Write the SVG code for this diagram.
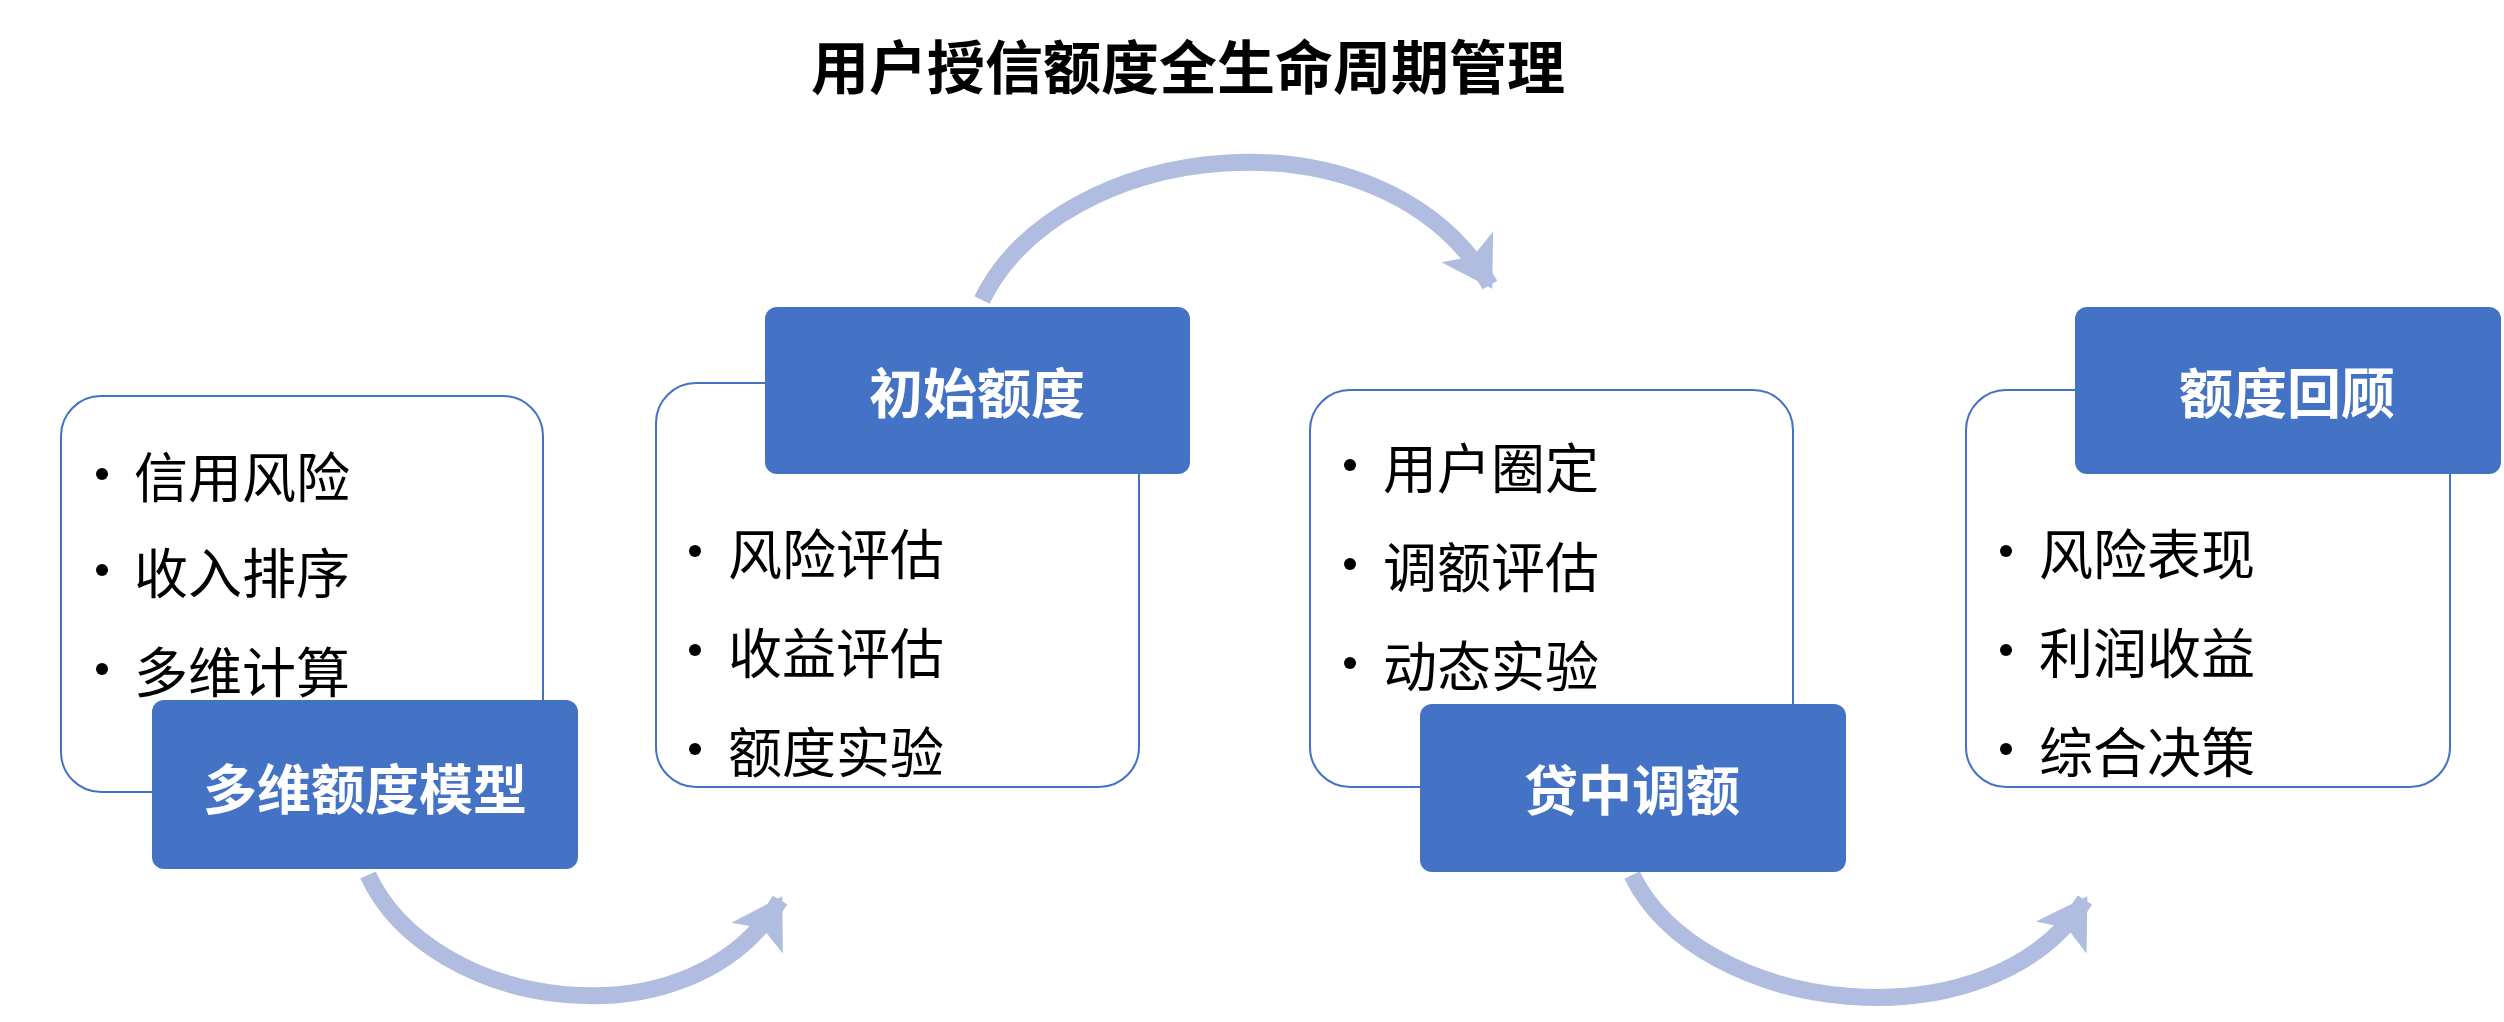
<svg xmlns="http://www.w3.org/2000/svg" width="2504" height="1022" viewBox="0 0 2504 1022">
<style>
.card{fill:#fff;stroke:#4472C4;stroke-width:2}
.head{fill:#4472C4}
.ht{font-family:"Noto Sans CJK SC",sans-serif;font-weight:bold;font-size:54px;fill:#fff;text-anchor:middle;dominant-baseline:central}
.it{font-family:"Noto Sans CJK SC",sans-serif;font-size:54px;fill:#000;dominant-baseline:central}
.arc{fill:none;stroke:#B0BDE0;stroke-width:17}
</style>
<defs>
<marker id="ah" markerUnits="userSpaceOnUse" markerWidth="60" markerHeight="60" viewBox="0 0 44 54" refX="40" refY="27" orient="auto">
<path d="M0,0 L44,27 L0,54 L10,27 z" fill="#B0BDE0"/>
</marker>
</defs>
<text x="1188" y="64" font-family="Noto Sans CJK SC,sans-serif" font-weight="bold" font-size="58" text-anchor="middle" dominant-baseline="central">用户授信额度全生命周期管理</text>
<g id="connectors">
<path class="arc" d="M368,875 C430,1010 690,1050 780,900" marker-end="url(#ah)"/>
<path class="arc" d="M982,300 C1060,140 1380,100 1490,285" marker-end="url(#ah)"/>
<path class="arc" d="M1632,875 C1700,1015 1990,1050 2085,900" marker-end="url(#ah)"/>
</g>
<g id="node1">
<rect class="card" x="61" y="396" width="482" height="396" rx="40"/>
<circle cx="102" cy="474" r="6"/><text class="it" x="134" y="474">信用风险</text>
<circle cx="102" cy="570" r="6"/><text class="it" x="134" y="570">收入排序</text>
<circle cx="102" cy="669" r="6"/><text class="it" x="134" y="669">多维计算</text>
<rect class="head" x="152" y="700" width="426" height="169" rx="12"/>
<text class="ht" x="365" y="786">多维额度模型</text>
</g>
<g id="node2">
<rect class="card" x="656" y="383" width="483" height="404" rx="40"/>
<circle cx="695" cy="551" r="6"/><text class="it" x="728" y="551">风险评估</text>
<circle cx="695" cy="650" r="6"/><text class="it" x="728" y="650">收益评估</text>
<circle cx="695" cy="749" r="6"/><text class="it" x="728" y="749">额度实验</text>
<rect class="head" x="765" y="307" width="425" height="167" rx="12"/>
<text class="ht" x="977" y="390">初始额度</text>
</g>
<g id="node3">
<rect class="card" x="1310" y="390" width="483" height="397" rx="40"/>
<circle cx="1350" cy="465" r="6"/><text class="it" x="1383" y="465">用户圈定</text>
<circle cx="1350" cy="564" r="6"/><text class="it" x="1383" y="564">调额评估</text>
<circle cx="1350" cy="663" r="6"/><text class="it" x="1383" y="663">动态实验</text>
<rect class="head" x="1420" y="704" width="426" height="168" rx="12"/>
<text class="ht" x="1632" y="787">贷中调额</text>
</g>
<g id="node4">
<rect class="card" x="1966" y="390" width="484" height="397" rx="40"/>
<circle cx="2006" cy="551" r="6"/><text class="it" x="2039" y="551">风险表现</text>
<circle cx="2006" cy="650" r="6"/><text class="it" x="2039" y="650">利润收益</text>
<circle cx="2006" cy="749" r="6"/><text class="it" x="2039" y="749">综合决策</text>
<rect class="head" x="2075" y="307" width="426" height="167" rx="12"/>
<text class="ht" x="2287" y="390">额度回顾</text>
</g>
</svg>
